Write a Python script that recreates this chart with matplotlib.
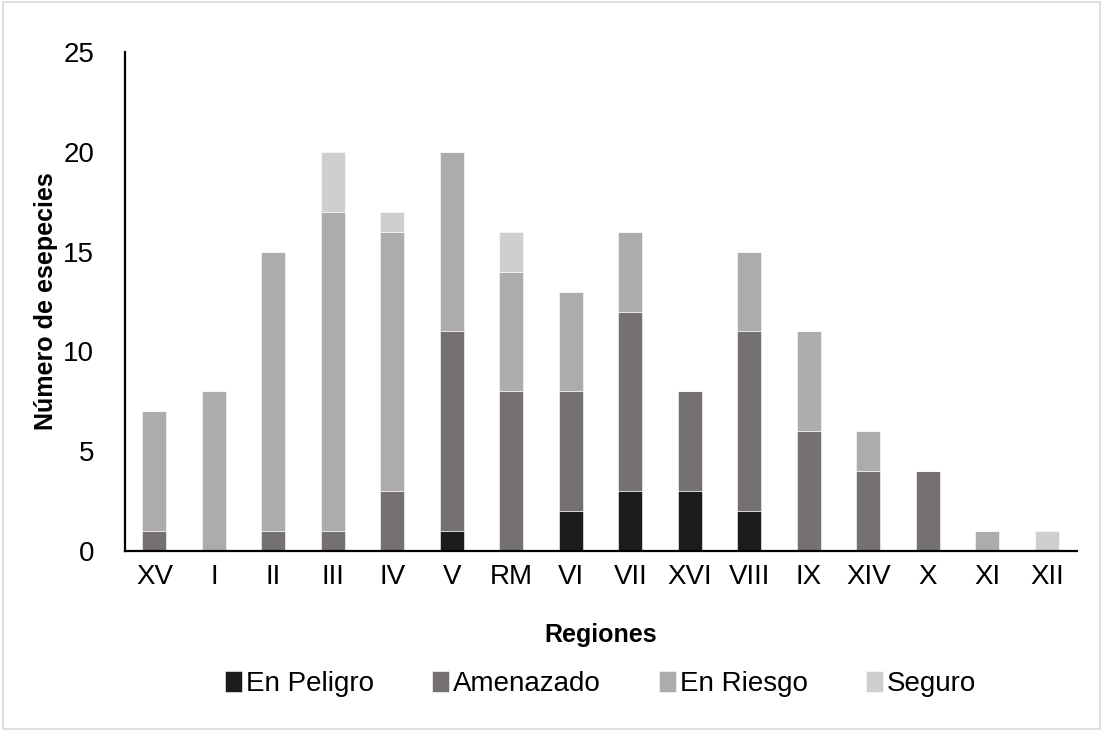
import matplotlib
matplotlib.use('Agg')
import matplotlib.pyplot as plt
from matplotlib.patches import Rectangle
import numpy as np

plt.rcParams['font.family'] = ['Liberation Sans', 'DejaVu Sans']

# Datos
regiones = ['XV', 'I', 'II', 'III', 'IV', 'V', 'RM', 'VI', 'VII', 'XVI',
            'VIII', 'IX', 'XIV', 'X', 'XI', 'XII']
en_peligro = [0, 0, 0, 0, 0, 1, 0, 2, 3, 3, 2, 0, 0, 0, 0, 0]
amenazado = [1, 0, 1, 1, 3, 10, 8, 6, 9, 5, 9, 6, 4, 4, 0, 0]
en_riesgo = [6, 8, 14, 16, 13, 9, 6, 5, 4, 0, 4, 5, 2, 0, 1, 0]
seguro = [0, 0, 0, 3, 1, 0, 2, 0, 0, 0, 0, 0, 0, 0, 0, 1]

series = [
    ('En Peligro', en_peligro, '#1c1c1c'),
    ('Amenazado', amenazado, '#757171'),
    ('En Riesgo', en_riesgo, '#aeabab'),
    ('Seguro', seguro, '#d0cece'),
]

fig = plt.figure(figsize=(11.03, 7.31), dpi=100)
ax = fig.add_axes([0.113, 0.246, 0.863, 0.683])

x = np.arange(len(regiones))
bottom = np.zeros(len(regiones))
for nombre, valores, color in series:
    ax.bar(x, valores, width=0.4, bottom=bottom, color=color, label=nombre,
           edgecolor='white', linewidth=0.4)
    bottom += np.array(valores)

ax.set_xlim(-0.5, len(regiones) - 0.5)
ax.set_ylim(0, 25)
ax.set_yticks([0, 5, 10, 15, 20, 25])
ax.set_xticks(x)
ax.set_xticklabels(regiones)
ax.tick_params(axis='both', length=0, labelsize=20)
ax.tick_params(axis='x', pad=9)
ax.tick_params(axis='y', pad=22)

for s in ['top', 'right']:
    ax.spines[s].set_visible(False)
for s in ['left', 'bottom']:
    ax.spines[s].set_linewidth(1.6)
    ax.spines[s].set_color('black')

ax.set_xlabel('Regiones', fontsize=18, fontweight='bold', labelpad=24)
ax.set_ylabel('Número de esepecies', fontsize=18, fontweight='bold', labelpad=4)

ax.legend(loc='upper center', bbox_to_anchor=(0.5, -0.19), ncol=4,
          frameon=False, fontsize=20, handlelength=0.6, handleheight=0.75,
          handletextpad=0.15, columnspacing=2.1)

# Borde de la figura
fig.patches.append(Rectangle((0.003, 0.003), 0.994, 0.994, transform=fig.transFigure,
                             fill=False, edgecolor='#d9d9d9', linewidth=1.2))

fig.savefig('out.png', dpi=100)
plt.close(fig)
